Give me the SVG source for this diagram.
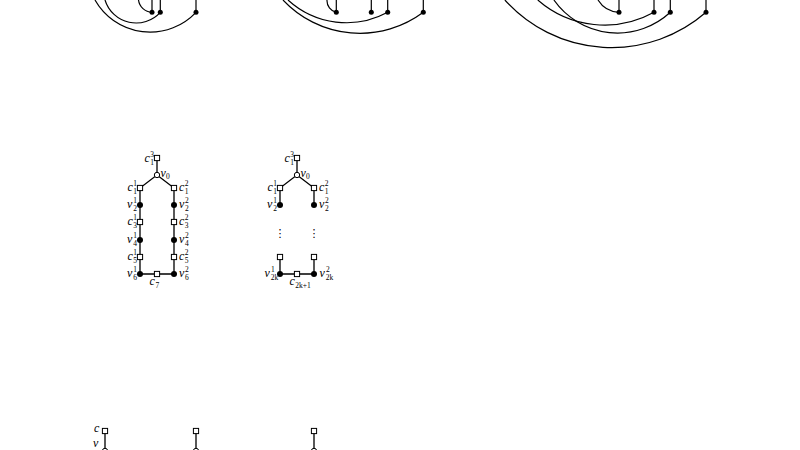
<svg xmlns="http://www.w3.org/2000/svg" width="800" height="450" viewBox="0 0 800 450">
<style>
.e{stroke:#000;stroke-width:1.3;fill:none}
.a{stroke:#000;stroke-width:1.2;fill:none}
.sq{fill:#fff;stroke:#000;stroke-width:1}
.oc{fill:#fff;stroke:#000;stroke-width:1}
.fd{fill:#000}
.l{font-family:"Liberation Serif",serif;font-style:italic;font-size:12px;fill:#000}
.s{font-family:"Liberation Serif",serif;font-size:7.5px;fill:#000}
.d{font-family:"DejaVu Sans",sans-serif;font-size:11px;fill:#000}
</style>
<defs>
<rect id="sqr" class="sq" x="-2.6" y="-2.6" width="5.2" height="5.2"/>
<circle id="oci" class="oc" r="2.7"/>
<circle id="fdt" class="fd" r="3"/>
<circle id="tdt" class="fd" r="2.5"/>
</defs>

<!-- connectors -->
<g id="connectors">
  <!-- top left figure -->
  <path class="a" d="M152 0V12.3M160.3 0V12.3M196 0V12.3"/>
  <path class="a" d="M138.5 0A14 14 0 0 0 152 12.3"/>
  <path class="a" d="M105 0A32.6 32.6 0 0 0 160.3 12.3"/>
  <path class="a" d="M95 0A63.2 63.2 0 0 0 196 12.3"/>
  <!-- top middle figure -->
  <path class="a" d="M336.3 0V12.3M371.3 0V12.3M387.7 0V12.3M423.3 0V12.3"/>
  <path class="a" d="M327 0A12 12 0 0 0 336.3 12.3"/>
  <path class="a" d="M288 0A86.7 86.7 0 0 0 387.7 12.3"/>
  <path class="a" d="M283 0A105.7 105.7 0 0 0 423.3 12.3"/>
  <!-- top right figure -->
  <path class="a" d="M619 0V12.3M654 0V12.3M670.3 0V12.3M706 0V12.3"/>
  <path class="a" d="M598 0A26 26 0 0 0 619 12.3"/>
  <path class="a" d="M537.8 0A101.6 101.6 0 0 0 654 12.3"/>
  <path class="a" d="M553.9 0A77.7 77.7 0 0 0 670.3 12.3"/>
  <path class="a" d="M504.9 0A143.6 143.6 0 0 0 706 12.3"/>
  <!-- middle left graph -->
  <path class="e" d="M157 158V175L140 188V274H174V188L157 175"/>
  <!-- middle right graph -->
  <path class="e" d="M297 158V175L280 188V205M297 175L314 188V205"/>
  <path class="e" d="M280 257V274H314V257"/>
  <!-- bottom -->
  <path class="e" d="M105 431V451M196 431V451M314 431V451"/>
</g>

<!-- top figure vertices -->
<g id="t1"><use href="#tdt" x="152" y="12.3"/></g>
<g id="t2"><use href="#tdt" x="160.3" y="12.3"/></g>
<g id="t3"><use href="#tdt" x="196" y="12.3"/></g>
<g id="t4"><use href="#tdt" x="336.3" y="12.3"/></g>
<g id="t5"><use href="#tdt" x="371.3" y="12.3"/></g>
<g id="t6"><use href="#tdt" x="387.7" y="12.3"/></g>
<g id="t7"><use href="#tdt" x="423.3" y="12.3"/></g>
<g id="t8"><use href="#tdt" x="619" y="12.3"/></g>
<g id="t9"><use href="#tdt" x="654" y="12.3"/></g>
<g id="t10"><use href="#tdt" x="670.3" y="12.3"/></g>
<g id="t11"><use href="#tdt" x="706" y="12.3"/></g>

<!-- middle left graph nodes -->
<g id="L-c13"><use href="#sqr" x="157" y="158"/><text class="l" x="144.5" y="161.5">c</text><text class="s" x="150.3" y="156.5">3</text><text class="s" x="150.3" y="164.5">1</text></g>
<g id="L-v0"><use href="#oci" x="157" y="175"/><text class="l" x="160.5" y="176.5">v</text><text class="s" x="166" y="179">0</text></g>
<g id="L-c11"><use href="#sqr" x="140" y="188"/><text class="l" x="127.5" y="191">c</text><text class="s" x="133.3" y="186">1</text><text class="s" x="133.3" y="193.5">1</text></g>
<g id="L-c12"><use href="#sqr" x="174" y="188"/><text class="l" x="179" y="191">c</text><text class="s" x="184.8" y="186">2</text><text class="s" x="184.8" y="193.5">1</text></g>
<g id="L-v21"><use href="#fdt" x="140" y="205"/><text class="l" x="127" y="208">v</text><text class="s" x="133.3" y="203">1</text><text class="s" x="133.3" y="210.5">2</text></g>
<g id="L-v22"><use href="#fdt" x="174" y="205"/><text class="l" x="179" y="208">v</text><text class="s" x="185" y="203">2</text><text class="s" x="185" y="210.5">2</text></g>
<g id="L-c31"><use href="#sqr" x="140" y="222"/><text class="l" x="127.5" y="225">c</text><text class="s" x="133.3" y="220">1</text><text class="s" x="133.3" y="227.5">3</text></g>
<g id="L-c32"><use href="#sqr" x="174" y="222"/><text class="l" x="179" y="225">c</text><text class="s" x="184.8" y="220">2</text><text class="s" x="184.8" y="227.5">3</text></g>
<g id="L-v41"><use href="#fdt" x="140" y="240"/><text class="l" x="127" y="243">v</text><text class="s" x="133.3" y="238">1</text><text class="s" x="133.3" y="245.5">4</text></g>
<g id="L-v42"><use href="#fdt" x="174" y="240"/><text class="l" x="179" y="243">v</text><text class="s" x="185" y="238">2</text><text class="s" x="185" y="245.5">4</text></g>
<g id="L-c51"><use href="#sqr" x="140" y="257"/><text class="l" x="127.5" y="260">c</text><text class="s" x="133.3" y="255">1</text><text class="s" x="133.3" y="262.5">5</text></g>
<g id="L-c52"><use href="#sqr" x="174" y="257"/><text class="l" x="179" y="260">c</text><text class="s" x="184.8" y="255">2</text><text class="s" x="184.8" y="262.5">5</text></g>
<g id="L-v61"><use href="#fdt" x="140" y="274"/><text class="l" x="127" y="277">v</text><text class="s" x="133.3" y="272">1</text><text class="s" x="133.3" y="279.5">6</text></g>
<g id="L-v62"><use href="#fdt" x="174" y="274"/><text class="l" x="179" y="277">v</text><text class="s" x="185" y="272">2</text><text class="s" x="185" y="279.5">6</text></g>
<g id="L-c7"><use href="#sqr" x="157" y="274"/><text class="l" x="149.5" y="285">c</text><text class="s" x="155.5" y="287.5">7</text></g>

<!-- middle right graph nodes -->
<g id="R-c13"><use href="#sqr" x="297" y="158"/><text class="l" x="284.5" y="161.5">c</text><text class="s" x="290.3" y="156.5">3</text><text class="s" x="290.3" y="164.5">1</text></g>
<g id="R-v0"><use href="#oci" x="297" y="175"/><text class="l" x="300.5" y="176.5">v</text><text class="s" x="306" y="179">0</text></g>
<g id="R-c11"><use href="#sqr" x="280" y="188"/><text class="l" x="267.5" y="191">c</text><text class="s" x="273.3" y="186">1</text><text class="s" x="273.3" y="193.5">1</text></g>
<g id="R-c12"><use href="#sqr" x="314" y="188"/><text class="l" x="319" y="191">c</text><text class="s" x="324.8" y="186">2</text><text class="s" x="324.8" y="193.5">1</text></g>
<g id="R-v21"><use href="#fdt" x="280" y="205"/><text class="l" x="267" y="208">v</text><text class="s" x="273.3" y="203">1</text><text class="s" x="273.3" y="210.5">2</text></g>
<g id="R-v22"><use href="#fdt" x="314" y="205"/><text class="l" x="319" y="208">v</text><text class="s" x="325" y="203">2</text><text class="s" x="325" y="210.5">2</text></g>
<g id="R-dots"><text class="d" x="280" y="237" text-anchor="middle">⋮</text><text class="d" x="314" y="237" text-anchor="middle">⋮</text></g>
<g id="R-cl"><use href="#sqr" x="280" y="257"/></g>
<g id="R-cr"><use href="#sqr" x="314" y="257"/></g>
<g id="R-v2k1"><use href="#fdt" x="280" y="274"/><text class="l" x="264.5" y="277">v</text><text class="s" x="271" y="272">1</text><text class="s" x="270.8" y="279.5">2k</text></g>
<g id="R-v2k2"><use href="#fdt" x="314" y="274"/><text class="l" x="319.5" y="277">v</text><text class="s" x="326" y="272">2</text><text class="s" x="325.8" y="279.5">2k</text></g>
<g id="R-c2k1"><use href="#sqr" x="297" y="274"/><text class="l" x="289.5" y="285">c</text><text class="s" x="295.3" y="287.5">2k+1</text></g>

<!-- bottom nodes -->
<g id="B1"><use href="#sqr" x="105" y="431"/><text class="l" x="94" y="432">c</text></g>
<g id="B1v"><use href="#oci" x="105" y="451"/><text class="l" x="93" y="446.5">v</text></g>
<g id="B2"><use href="#sqr" x="196" y="431"/></g>
<g id="B2v"><use href="#oci" x="196" y="451"/></g>
<g id="B3"><use href="#sqr" x="314" y="431"/></g>
<g id="B3v"><use href="#oci" x="314" y="451"/></g>
</svg>
